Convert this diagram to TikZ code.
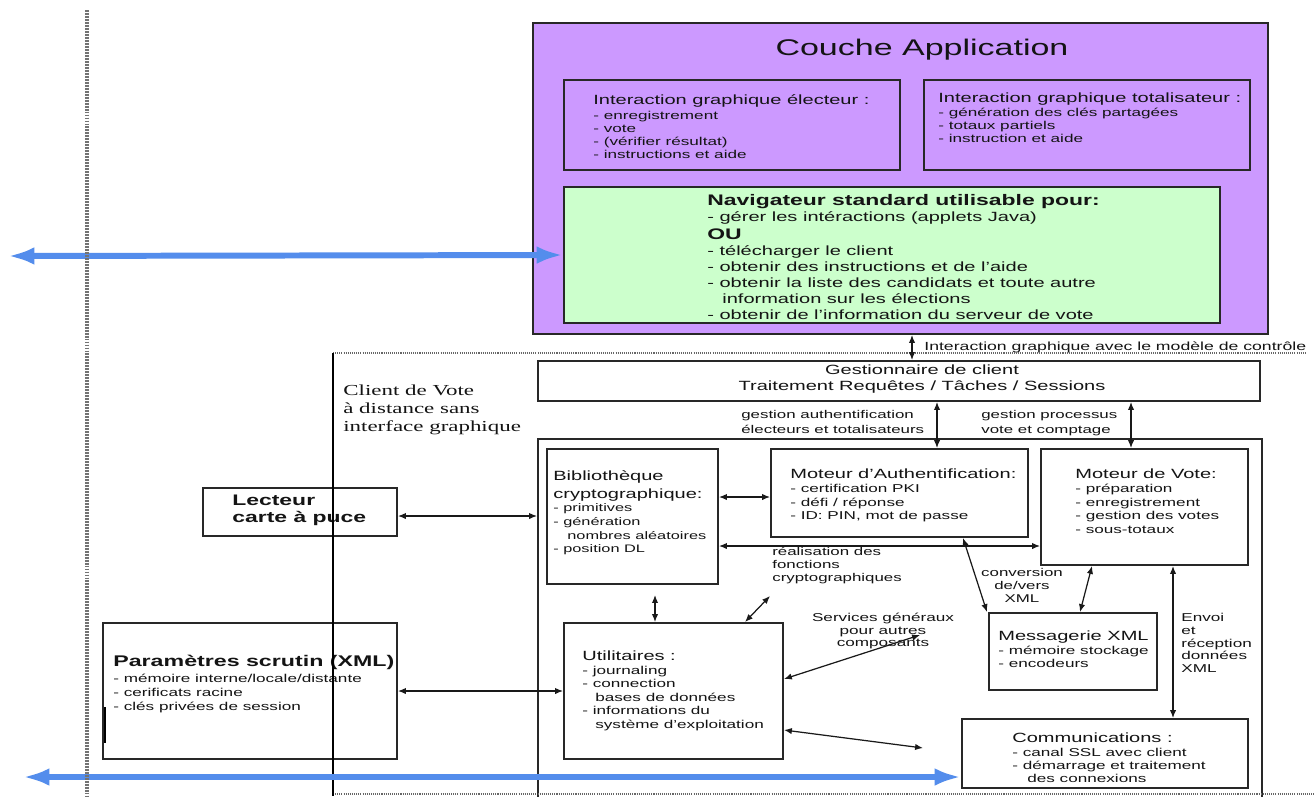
\documentclass[tikz,border=0pt]{standalone}
\usepackage{fontspec}
\setmainfont{Liberation Sans}[FakeStretch=1.5]
\newfontfamily\clientserif{Liberation Serif}[FakeStretch=1.5]
\usetikzlibrary{arrows.meta,fit}
\definecolor{purplefill}{RGB}{204,153,255}
\definecolor{greenfill}{RGB}{204,255,204}
\definecolor{bluearrow}{RGB}{84,141,236}
\definecolor{edge}{RGB}{40,40,40}
\definecolor{textc}{RGB}{20,20,20}
\newcommand{\fsz}[2]{\fontsize{#1}{#2}\selectfont}
\begin{document}
\begin{tikzpicture}[x=0.02cm,y=-0.02cm,
 box/.style={draw=edge,line width=1.1pt,inner sep=0pt},
 txt/.style={inner sep=0pt,anchor=north west,align=left,text=textc},
 ctxt/.style={inner sep=0pt,align=center,text=textc},
 link/.style={<->,>={Latex[length=4.5pt,width=3.6pt]},line width=0.7pt,draw=black!90},
 bigarrow/.style={<->,>={Latex[length=15pt,width=10pt]},line width=3.4pt,draw=bluearrow},
 dotl/.style={draw=black!60,line width=0.6pt,dash pattern=on 0.6pt off 0.6pt},
]
\useasboundingbox (0,0) rectangle (1315,796);
\fill[white] (0,0) rectangle (1315,796);

% Couche Application
\node[box,fill=purplefill,fit={(533,23) (1268,334)}] (app) {};
\node[ctxt,font=\fsz{12.9}{15}] (apptitle) at (922,50) {Couche Application};
\node[box,fill=purplefill,fit={(564,80) (900,170)}] (igE) {};
\node[box,fill=purplefill,fit={(924,80) (1250,170)}] (igT) {};
\node[box,fill=greenfill,fit={(564,187) (1220,323)}] (nav) {};

\node[txt,font=\fsz{6.5}{7.55}] (tE) at (593,94) {{\fsz{7.6}{9}Interaction graphique électeur :}\\[0.95pt]- enregistrement\\- vote\\- (vérifier résultat)\\- instructions et aide};
\node[txt,font=\fsz{6.5}{7.65}] (tT) at (938,92) {{\fsz{7.6}{9}Interaction graphique totalisateur :}\\[0.3pt]- génération des clés partagées\\- totaux partiels\\- instruction et aide};
\node[txt,font=\fsz{7.6}{9.07}] (tN) at (707,194) {{\bfseries\fsz{8.7}{10}Navigateur standard utilisable pour:}\\- gérer les intéractions (applets Java)\\[1pt]{\bfseries\fsz{8.7}{10}OU}\\[0.5pt]- télécharger le client\\- obtenir des instructions et de l’aide\\- obtenir la liste des candidats et toute autre\\\hspace*{0.3cm}information sur les élections\\- obtenir de l’information du serveur de vote};

% client area
\node[box,fit={(538,361) (1260,401)}] (gest) {};
\node[ctxt,font=\fsz{7.6}{9.07}] (tG) at (922,379) {Gestionnaire de client\\Traitement Requêtes / Tâches / Sessions};
\node[inner sep=0pt,anchor=base west,font=\fsz{6.7}{8},text=textc] (tC) at (924,350) {Interaction graphique avec le modèle de contrôle};
\node[txt,font=\clientserif\fsz{8.7}{10.2}] (tV) at (343,385) {Client de Vote\\à distance sans\\interface graphique};
\node[txt,font=\fsz{6.4}{8.5}] (lA) at (741,410) {gestion authentification\\électeurs et totalisateurs};
\node[txt,font=\fsz{6.4}{8.5}] (lP) at (981,410) {gestion processus\\vote et comptage};

\node[box,fit={(538,439) (1262,810)}] (engine) {};
\node[box,fit={(547,449) (718,584)}] (bib) {};
\node[box,fit={(771,449) (1028,537)}] (auth) {};
\node[box,fit={(1041,449) (1248,565)}] (vote) {};
\node[box,fit={(989,613) (1157,690)}] (msg) {};
\node[box,fit={(962,719) (1248,788)}] (comm) {};
\node[box,fit={(564,623) (783,759)}] (util) {};
\node[box,fit={(203,488) (397,536)}] (lect) {};
\node[box,fit={(103,623) (397,759)}] (params) {};
\draw[line width=1.6pt,black] (105,707) -- (105,743);

\node[txt,font=\fsz{6.2}{7.77}] (tB) at (553,470) {{\fsz{7.6}{9}Bibliothèque}\\[2.4pt]{\fsz{7.6}{9}cryptographique:}\\- primitives\\- génération\\\hspace*{0.28cm}nombres aléatoires\\- position DL};
\node[txt,font=\fsz{6.5}{7.65}] (tA) at (790,468) {{\fsz{7.6}{9}Moteur d’Authentification:}\\[0.85pt]- certification PKI\\- défi / réponse\\- ID: PIN, mot de passe};
\node[txt,font=\fsz{6.5}{7.65}] (tVo) at (1075,468) {{\fsz{7.6}{9}Moteur de Vote:}\\[0.85pt]- préparation\\- enregistrement\\- gestion des votes\\- sous-totaux};
\node[txt,font=\fsz{6.4}{7.37}] (lR) at (772,547) {réalisation des\\fonctions\\cryptographiques};
\node[ctxt,font=\fsz{6.4}{7.37}] (lX) at (1022,585) {conversion\\de/vers\\XML};
\node[txt,font=\fsz{6.5}{7.37}] (tM) at (998,630) {{\fsz{7.6}{9}Messagerie XML}\\[1.1pt]- mémoire stockage\\- encodeurs};
\node[txt,font=\fsz{6.5}{7.25}] (lE) at (1181,613) {Envoi\\et\\réception\\données\\XML};
\node[txt,font=\fsz{6.5}{7.37}] (tCo) at (1012,732) {{\fsz{7.6}{9}Communications :}\\[1.1pt]- canal SSL avec client\\- démarrage et traitement\\\hspace*{0.3cm}des connexions};
\node[txt,font=\fsz{6.5}{7.7}] (tU) at (582,650) {{\fsz{7.6}{9}Utilitaires :}\\[0.3pt]- journaling\\- connection\\\hspace*{0.26cm}bases de données\\- informations du\\\hspace*{0.26cm}système d’exploitation};
\node[ctxt,font=\fsz{6.5}{7.37}] (lS) at (883,631) {Services généraux\\pour autres\\composants};
\node[txt,font=\bfseries\fsz{8.7}{9.64}] (tL) at (232,495) {Lecteur\\carte à puce};
\node[txt,font=\fsz{6.5}{7.94}] (tPa) at (113,655) {{\bfseries\fsz{8.8}{10}Paramètres scrutin (XML)}\\[1.1pt]- mémoire interne/locale/distante\\- cerificats racine\\- clés privées de session};

% client box outline
\draw[dotl] (333,353) -- (1305,353);
\draw[dotl] (333,794) -- (1315,794);
\draw[line width=0.9pt,black] (333,353) -- (333,796);

% helper coordinates
\coordinate (c912) at (912,0);
\coordinate (c937) at (937,0);
\coordinate (c1131) at (1131,0);
\coordinate (c963) at (963,0);
\coordinate (c987) at (987,0);
\coordinate (c1092) at (1092,0);
\coordinate (c1080) at (1080,0);
\coordinate (c1173) at (1173,0);
\coordinate (c745) at (745,0);
\coordinate (h497) at (0,497);
\coordinate (h516) at (0,516);
\coordinate (h546) at (0,546);
\coordinate (h679) at (0,679);
\coordinate (h691) at (0,691);
\coordinate (h730) at (0,730);
\coordinate (bu) at (655,595);
\coordinate (ud) at (770,596);
\coordinate (us) at (920,635);
\coordinate (ub) at (923,748);
\coordinate (bl1) at (8,256);
\coordinate (bl2) at (23,777);

% connectors
\draw[link] (app.south -| c912) -- (gest.north -| c912);
\draw[link] (gest.south -| c937) -- (auth.north -| c937);
\draw[link] (gest.south -| c1131) -- (vote.north -| c1131);
\draw[link] (lect.east |- h516) -- (engine.west |- h516);
\draw[link] (params.east |- h691) -- (util.west |- h691);
\draw[link] (bib.east |- h497) -- (auth.west |- h497);
\draw[link] (bib.east |- h546) -- (vote.west |- h546);
\draw[link] (auth.south -| c963) -- (msg.north -| c987);
\draw[link] (vote.south -| c1092) -- (msg.north -| c1080);
\draw[link] (vote.south -| c1173) -- (comm.north -| c1173);
\draw[link] (bu) -- (util.north -| bu);
\draw[link] (util.north -| c745) -- (ud);
\draw[link] (util.east |- h679) -- (us);
\draw[link] (util.east |- h730) -- (ub);

% blue arrows
\draw[bigarrow] (bl1) -- (nav.west);
\draw[bigarrow] (bl2) -- (comm.west |- bl2);

% left dotted guide
\draw[draw=black!55,line width=2.2pt,dash pattern=on 1.1pt off 0.6pt] (87,10) -- (87,796);
\end{tikzpicture}
\end{document}
